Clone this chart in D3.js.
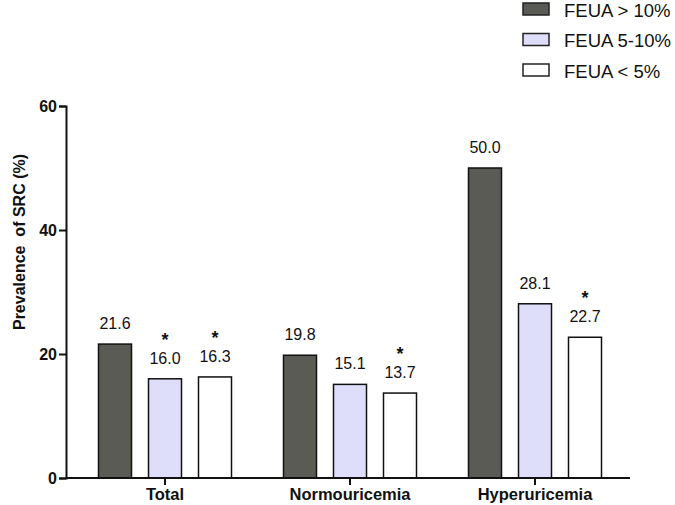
<!DOCTYPE html>
<html>
<head>
<meta charset="utf-8">
<script src="https://cdn.jsdelivr.net/npm/d3@7"></script>
<style>
    body { margin: 0; background: #fff; }
    svg { font-family: "Liberation Sans", Arial, sans-serif; }
</style>
</head>
<body>
<svg id="chart" width="675" height="505"></svg>
<script>
var groups = ["Total", "Normouricemia", "Hyperuricemia"],
    seriesNames = ["FEUA > 10%", "FEUA 5-10%", "FEUA < 5%"],
    seriesColors = ["#5b5b56", "#dedefa", "#ffffff"],
    high = [21.6, 19.8, 50.0],
    mid = [16.0, 15.1, 28.1],
    low = [16.3, 13.7, 22.7],
    // significance stars, same order as the series
    starsHigh = [false, false, false],
    starsMid = [true, false, false],
    starsLow = [true, true, true],
    yTicks = [0, 20, 40, 60];

var series = [high, mid, low],
    stars = [starsHigh, starsMid, starsLow];

var svg = d3.select("#chart"),
    plotLeft = 66,
    plotRight = 630,
    plotTop = 106,
    plotBottom = 478;

var x = d3.scaleBand().domain(groups).range([72.5, 627.5]),
    xInner = d3.scaleBand().domain(d3.range(3)).range([0, 150]).paddingInner(0.34).paddingOuter(0.17),
    y = d3.scaleLinear().domain([0, 60]).range([plotBottom, plotTop]);

function barX(s, i) {
    return x(groups[i]) + x.bandwidth() / 2 - 75 + xInner(s);
}

// bars
series.forEach(function(vals, s) {
    var g = svg.append("g");
    g.selectAll("rect")
        .data(vals)
        .enter().append("rect")
        .attr("x", function(d, i) { return barX(s, i); })
        .attr("y", function(d) { return y(d); })
        .attr("width", xInner.bandwidth())
        .attr("height", function(d) { return y(0) - y(d); })
        .attr("fill", seriesColors[s])
        .attr("stroke", "#111")
        .attr("stroke-width", 1.5);

    g.selectAll("text.val")
        .data(vals)
        .enter().append("text")
        .attr("class", "val")
        .attr("x", function(d, i) { return barX(s, i) + xInner.bandwidth() / 2; })
        .attr("y", function(d) { return y(d) - 15; })
        .attr("text-anchor", "middle")
        .attr("font-size", 16)
        .attr("fill", "#111")
        .text(function(d) { return d.toFixed(1); });

    g.selectAll("text.star")
        .data(vals)
        .enter().append("text")
        .attr("class", "star")
        .attr("x", function(d, i) { return barX(s, i) + xInner.bandwidth() / 2; })
        .attr("y", function(d) { return y(d) - 15 - 18; })
        .attr("text-anchor", "middle")
        .attr("font-size", 18)
        .attr("font-weight", "bold")
        .attr("fill", "#111")
        .text(function(d, i) { return stars[s][i] ? "*" : ""; });
});

// y axis
var yAxis = svg.append("g")
    .attr("transform", "translate(" + plotLeft + ",0)")
    .call(d3.axisLeft(y).tickValues(yTicks).tickSize(7).tickPadding(2));
yAxis.selectAll("text").attr("font-size", 16).attr("font-weight", "bold").attr("fill", "#111");

// x axis
var xAxis = svg.append("g")
    .attr("transform", "translate(0," + plotBottom + ")")
    .call(d3.axisBottom(x).tickSize(7).tickPadding(3));
xAxis.select(".domain").remove();
xAxis.selectAll("text").attr("font-size", 16.5).attr("font-weight", "bold").attr("fill", "#111");
svg.append("line")
    .attr("x1", plotLeft).attr("x2", plotRight)
    .attr("y1", plotBottom).attr("y2", plotBottom)
    .attr("stroke", "#111").attr("stroke-width", 2);

svg.selectAll(".domain, .tick line").attr("stroke", "#111").attr("stroke-width", 2);

// y title
svg.append("text")
    .attr("transform", "translate(25,242) rotate(-90)")
    .attr("text-anchor", "middle")
    .attr("font-size", 16)
    .attr("font-weight", "bold")
    .attr("fill", "#111")
    .style("white-space", "pre")
    .text("Prevalence  of SRC (%)");

// legend
var legend = svg.append("g").attr("transform", "translate(523,3)");
seriesNames.forEach(function(name, i) {
    legend.append("rect")
        .attr("x", 0).attr("y", i * 30.5)
        .attr("width", 26).attr("height", 12)
        .attr("fill", seriesColors[i])
        .attr("stroke", "#222")
        .attr("stroke-width", 1.5);
    legend.append("text")
        .attr("x", 41).attr("y", i * 30.5 + 13.5)
        .attr("font-size", 18.5)
        .attr("fill", "#111")
        .text(name);
});
</script>
</body>
</html>
